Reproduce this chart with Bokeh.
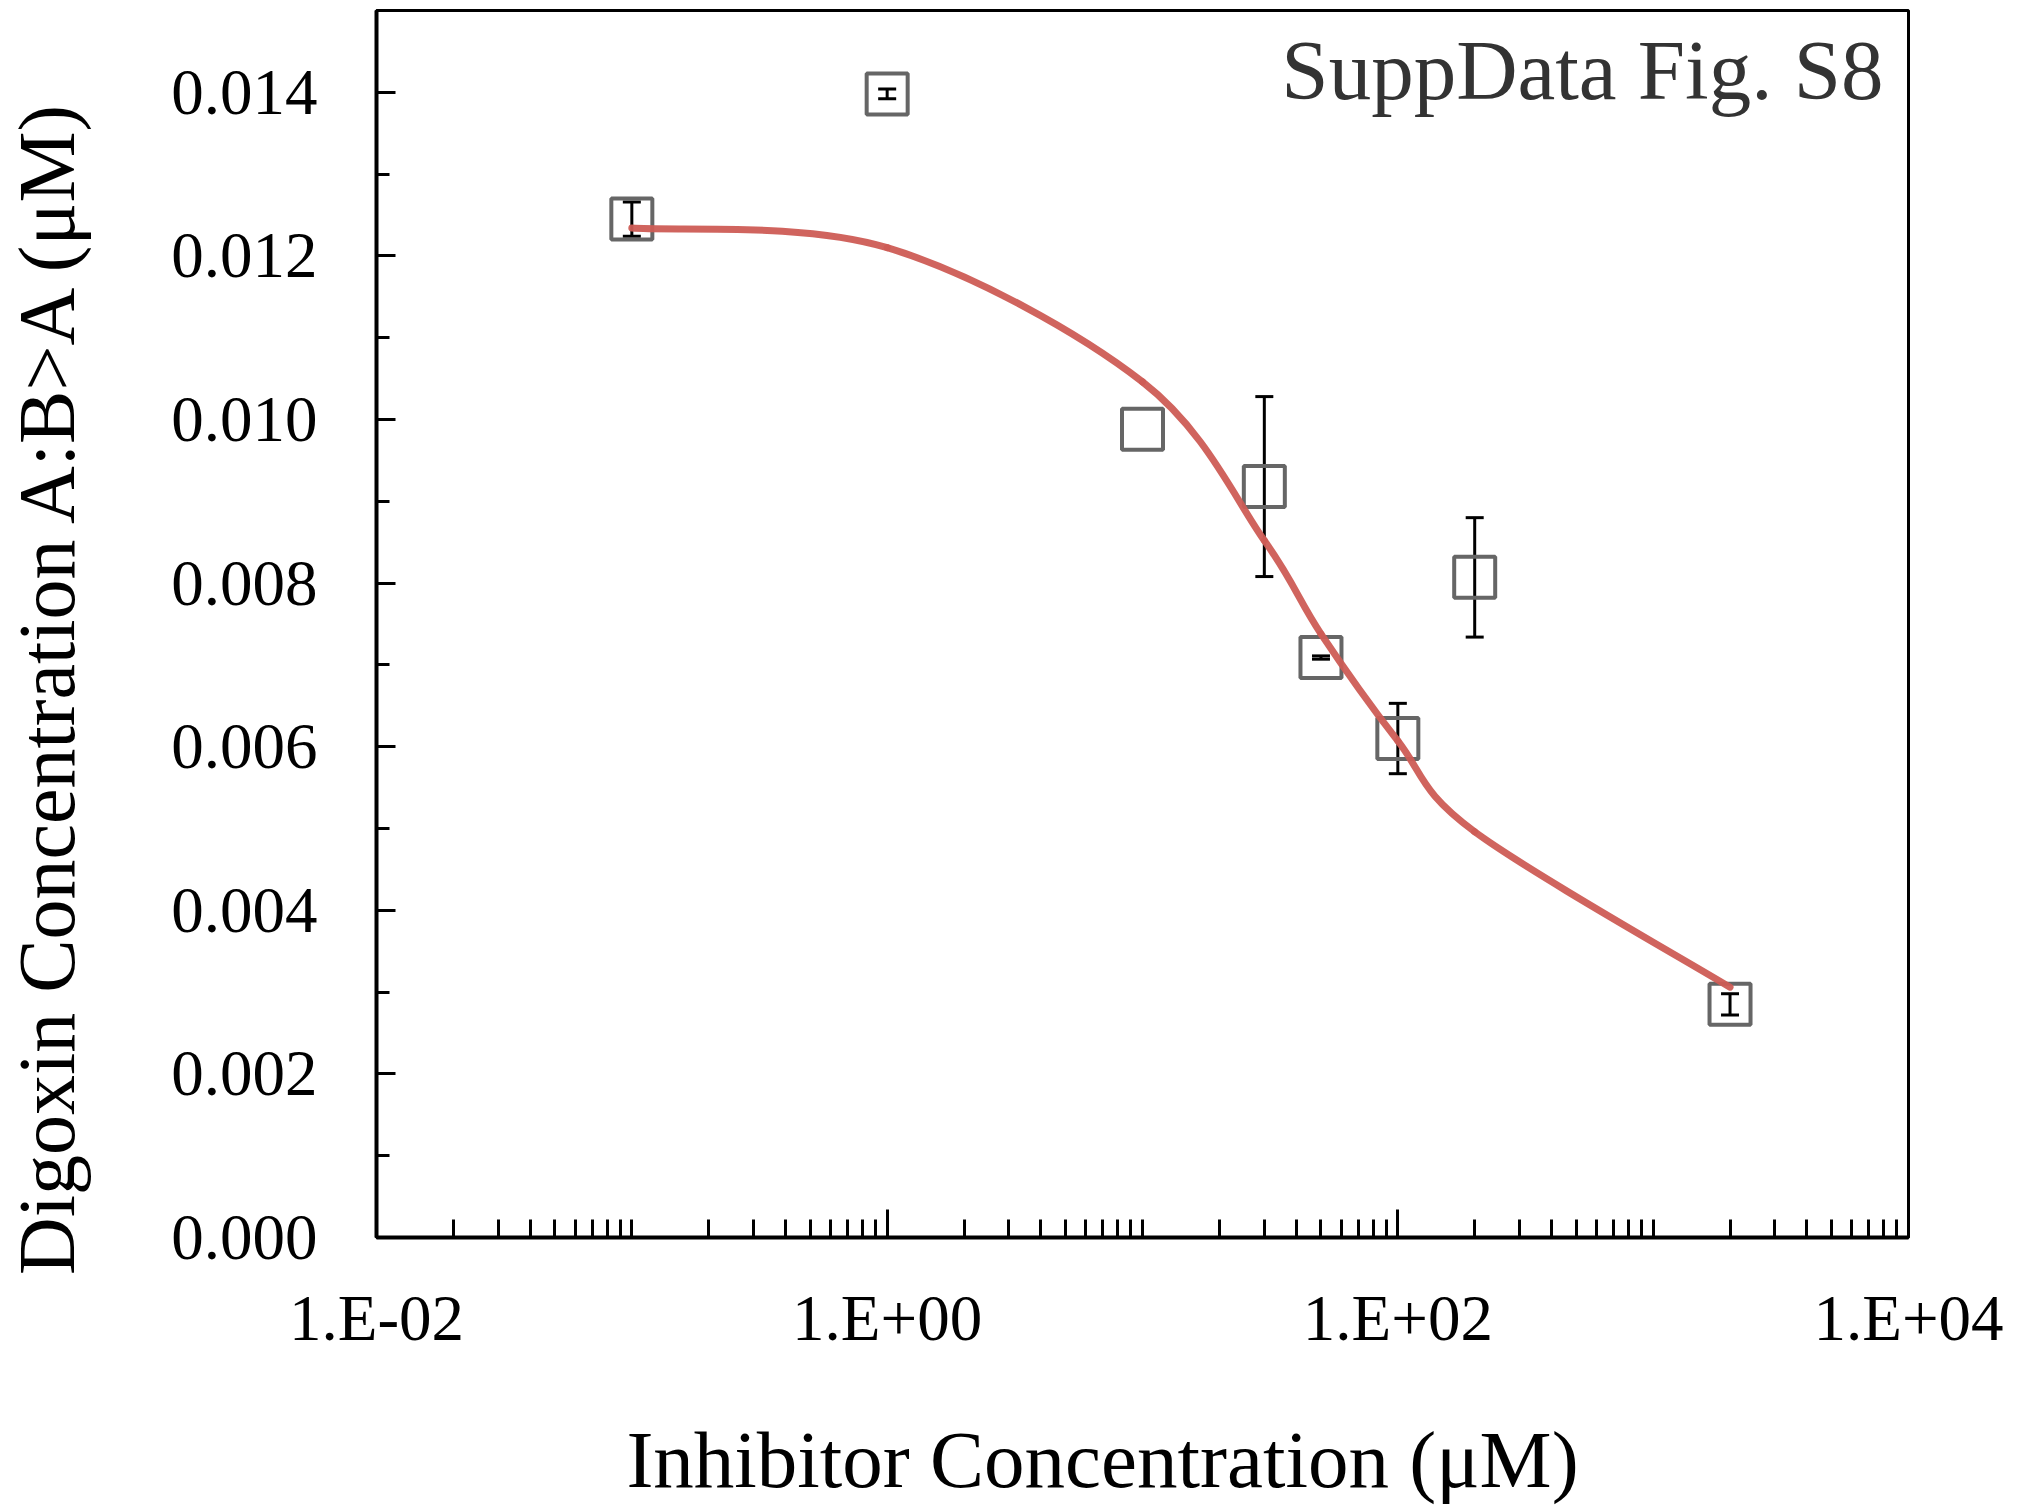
import math
from bokeh.plotting import figure
from bokeh.layouts import row, column
from bokeh.models import (FixedTicker, Range1d, Whisker, ColumnDataSource,
                          Label, CustomJSTickFormatter, NumeralTickFormatter, TeeHead)
from bokeh.embed import file_html
from bokeh.resources import INLINE

# ---- data ----
conc = [0.1, 1.0, 10.0, 30.0, 50.0, 100.0, 200.0, 2000.0]
digoxin = [0.01245, 0.01398, 0.00988, 0.00918, 0.00709, 0.00610, 0.00807, 0.00285]
err = [0.00021, 0.00006, 0.0, 0.00110, 0.00002, 0.00043, 0.00073, 0.00013]
# fitted (model) values at the same concentrations, drawn as a smoothed line
fitted = [0.01234, 0.01210, 0.01046, 0.00852, 0.00738, 0.00607, 0.00496, 0.00306]

x_major = [0.01, 1, 100, 10000]
x_tick_labels = ["1.E-02", "1.E+00", "1.E+02", "1.E+04"]
y_major = [0.0, 0.002, 0.004, 0.006, 0.008, 0.010, 0.012, 0.014]
y_minor = [0.001, 0.003, 0.005, 0.007, 0.009, 0.011, 0.013, 0.015]

x_title = "Inhibitor Concentration (\u03bcM)"
y_title = "Digoxin Concentration A:B>A (\u03bcM)"
note = "SuppData Fig. S8"

FONT = "Liberation Serif"
TOTAL_H = 1505
LEFT_W = 150
MAIN_W = 2010 - LEFT_W
MAIN_H = 1370
FRAME_LEFT = 376      # page x of the plotting frame's left edge

x_minor = []
for k in range(-2, 4):
    for m in range(1, 10):
        v = m * 10.0 ** k
        if not any(abs(v - t) / t < 1e-9 for t in x_major):
            x_minor.append(v)

p = figure(width=MAIN_W, height=MAIN_H, x_axis_type="log",
           x_range=Range1d(0.01, 10000), y_range=Range1d(0, 0.015),
           output_backend="svg", toolbar_location=None,
           min_border_left=FRAME_LEFT - LEFT_W, min_border_right=102, min_border_top=10,
           min_border_bottom=MAIN_H - 1237)
p.grid.visible = False
p.background_fill_color = "white"
p.border_fill_color = "white"
p.outline_line_color = "black"
p.outline_line_width = 3

# axes
xa = p.xaxis[0]
xa.ticker = FixedTicker(ticks=x_major, minor_ticks=x_minor)
xa.formatter = CustomJSTickFormatter(args=dict(majors=x_major, names=x_tick_labels), code="""
let best = 0, bd = 1e9;
for (let i = 0; i < majors.length; i++) {
  const d = Math.abs(Math.log10(tick) - Math.log10(majors[i]));
  if (d < bd) { bd = d; best = i; }
}
return names[best];
""")
xa.major_tick_in = 28
xa.major_tick_out = 0
xa.minor_tick_in = 18
xa.minor_tick_out = 0
xa.major_tick_line_width = 3
xa.minor_tick_line_width = 3
xa.axis_line_width = 4
xa.major_label_standoff = 44
xa.major_label_text_font = FONT
xa.major_label_text_font_size = "65px"
xa.major_label_text_color = "black"

ya = p.yaxis[0]
ya.ticker = FixedTicker(ticks=y_major, minor_ticks=y_minor)
ya.formatter = NumeralTickFormatter(format="0.000")
ya.major_tick_in = 19
ya.major_tick_out = 0
ya.minor_tick_in = 13
ya.minor_tick_out = 0
ya.major_tick_line_width = 3
ya.minor_tick_line_width = 3
ya.axis_line_width = 4
ya.major_label_standoff = 59
ya.major_label_text_font = FONT
ya.major_label_text_font_size = "65px"
ya.major_label_text_color = "black"

# data squares
p.scatter(conc, digoxin, marker="square", size=41, fill_color=None,
          line_color="#666666", line_width=4)

# smoothed fitted line (Catmull-Rom style Bezier through the fitted values, in log-x space)
lx = [math.log10(c) for c in conc]
n = len(lx)
bz = dict(x0=[], y0=[], x1=[], y1=[], cx0=[], cy0=[], cx1=[], cy1=[])
for i in range(n - 1):
    im, ip2 = max(i - 1, 0), min(i + 2, n - 1)
    c0x = lx[i] + (lx[i + 1] - lx[im]) / 6
    c0y = fitted[i] + (fitted[i + 1] - fitted[im]) / 6
    c1x = lx[i + 1] - (lx[ip2] - lx[i]) / 6
    c1y = fitted[i + 1] - (fitted[ip2] - fitted[i]) / 6
    bz["x0"].append(conc[i]); bz["y0"].append(fitted[i])
    bz["x1"].append(conc[i + 1]); bz["y1"].append(fitted[i + 1])
    bz["cx0"].append(10 ** c0x); bz["cy0"].append(c0y)
    bz["cx1"].append(10 ** c1x); bz["cy1"].append(c1y)
p.bezier(x0="x0", y0="y0", x1="x1", y1="y1", cx0="cx0", cy0="cy0", cx1="cx1", cy1="cy1",
         source=ColumnDataSource(bz), line_color="#cd5c55", line_width=7,
         line_alpha=0.95, line_cap="round")

# error bars
ex = [c for c, e in zip(conc, err) if e > 0]
ey = [d for d, e in zip(digoxin, err) if e > 0]
ee = [e for e in err if e > 0]
src = ColumnDataSource(dict(x=ex, upper=[a + b for a, b in zip(ey, ee)],
                            lower=[a - b for a, b in zip(ey, ee)]))
wk = Whisker(source=src, base="x", upper="upper", lower="lower", dimension="height",
             line_color="black", line_width=3,
             upper_head=TeeHead(size=18, line_width=3, line_color="black"),
             lower_head=TeeHead(size=18, line_width=3, line_color="black"))
p.add_layout(wk)

# note in the corner
p.add_layout(Label(x=1507, y=1168, x_units="screen", y_units="screen", text=note,
                   text_align="right", text_baseline="alphabetic", text_font=FONT,
                   text_font_size="85px", text_color="#333333"))


def blank(w, h):
    f = figure(width=w, height=h, x_range=Range1d(0, 1), y_range=Range1d(0, 1),
               x_axis_location=None, y_axis_location=None, min_border=0,
               output_backend="svg", toolbar_location=None)
    f.grid.visible = False
    f.outline_line_color = None
    f.background_fill_color = "white"
    f.border_fill_color = "white"
    return f


# y-axis title panel
ly = blank(LEFT_W, TOTAL_H)
ly.add_layout(Label(x=46, y=TOTAL_H - 685, x_units="screen", y_units="screen",
                    text=y_title, angle=math.pi / 2, text_align="center",
                    text_baseline="alphabetic", text_font=FONT,
                    text_font_size="80px", text_color="black"))

# x-axis title panel (its frame is aligned with the main plot's frame)
bx = blank(MAIN_W, TOTAL_H - MAIN_H)
bx.add_layout(Label(x=1102 - FRAME_LEFT, y=46, x_units="screen", y_units="screen",
                    text=x_title, text_align="center", text_baseline="alphabetic",
                    text_font=FONT, text_font_size="81px", text_color="black"))

layout = row(ly, column(p, bx, spacing=0), spacing=0)

open("out.html", "w").write(file_html(layout, INLINE))
